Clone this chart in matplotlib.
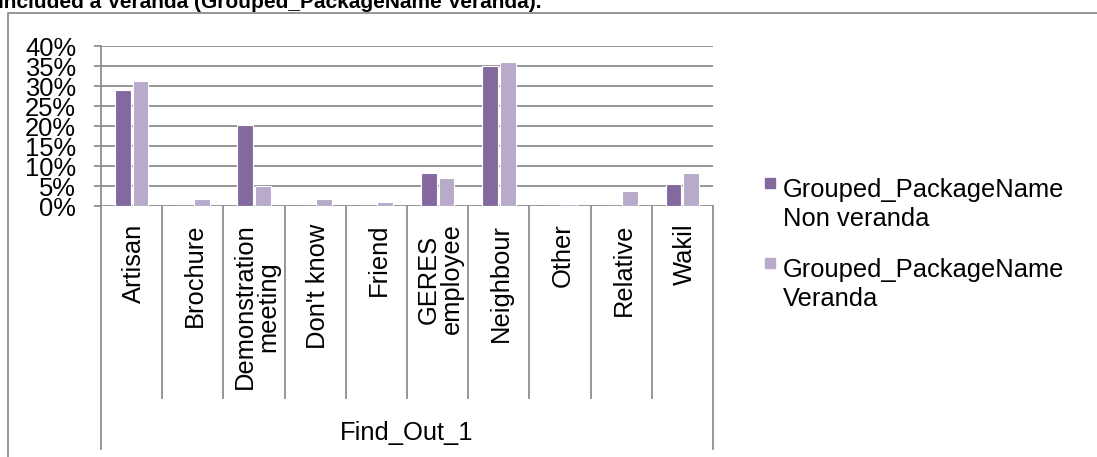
import matplotlib
matplotlib.use('Agg')
import matplotlib.pyplot as plt
import matplotlib.transforms as mtransforms
from matplotlib.patches import Rectangle
from matplotlib.lines import Line2D
import numpy as np

plt.rcParams['font.family'] = ['Liberation Sans', 'DejaVu Sans']

# data (percent)
categories = ['Artisan', 'Brochure', 'Demonstration\nmeeting', "Don't know", 'Friend',
              'GERES\nemployee', 'Neighbour', 'Other', 'Relative', 'Wakil']
non_veranda = [29.0, 0, 20.2, 0, 0, 8.3, 35.0, 0, 0, 5.5]
veranda = [31.3, 1.7, 5.1, 1.7, 1.0, 6.9, 36.0, 0.5, 3.7, 8.3]
series_names = ['Grouped_PackageName\nNon veranda', 'Grouped_PackageName\nVeranda']
yticks = np.arange(0, 41, 5)
axis_title = 'Find_Out_1'
title = 'Included a Veranda (Grouped_PackageName Veranda).'

dark = '#8469a1'
light = '#b8aacb'
gray = '#8e8e8e'
fs = 18.4

W, H = 1097, 457
fig = plt.figure(figsize=(W / 100, H / 100), dpi=100)

def px_rect(x0, y0, x1, y1):
    # pixel box (from top-left) -> figure fraction rect
    return [x0 / W, 1 - y1 / H, (x1 - x0) / W, (y1 - y0) / H]

ax = fig.add_axes(px_rect(101, 46, 713, 206))

x = np.arange(len(categories)) + 0.5
bw = 0.26
ax.bar(x - 0.145, non_veranda, bw, color=dark, edgecolor='white', linewidth=0.8, zorder=3)
ax.bar(x + 0.145, veranda, bw, color=light, edgecolor='white', linewidth=0.8, zorder=3)

ax.set_xlim(0, len(categories))
ax.set_ylim(0, 40)
ax.set_xticks([])
ax.set_yticks(yticks)
ax.set_yticklabels([f'{v}%' for v in yticks], fontsize=fs)
ax.tick_params(axis='y', length=5, width=1.3, color=gray, pad=13)
ax.grid(axis='y', color=gray, linewidth=1.3, zorder=0)
for s in ['top', 'right', 'bottom']:
    ax.spines[s].set_visible(False)
ax.spines['left'].set_color(gray)
ax.spines['left'].set_linewidth(1.3)

# category area below the axis
trans = mtransforms.blended_transform_factory(ax.transData, ax.transAxes)
for i in range(len(categories) + 1):
    y_end = -1.52 if i in (0, len(categories)) else -1.2
    ax.plot([i, i], [0, y_end], color=gray, linewidth=1.3, transform=trans, clip_on=False)
for xi, lab in zip(x, categories):
    ax.text(xi + 0.04, -0.11, lab, rotation=90, ha='center', va='top', multialignment='center',
            fontsize=fs, transform=trans, linespacing=0.95)
ax.text(0.5, -1.46, axis_title, ha='center', va='baseline', fontsize=fs, transform=ax.transAxes)

# legend drawn by hand so the swatch sits on the first line
for k, (name, col) in enumerate(zip(series_names, [dark, light])):
    top = 178 + k * 80
    fig.add_artist(Rectangle((765 / W, 1 - (top + 10) / H), 10 / W, 10 / H,
                             transform=fig.transFigure, color=col))
    for j, line in enumerate(name.split('\n')):
        fig.text(783 / W, 1 - (197 + k * 80 + j * 29) / H, line, fontsize=fs, va='baseline')

# outer chart frame and cut-off title
fig.add_artist(Line2D([8 / W, 8 / W, 1], [0, 1 - 13 / H, 1 - 13 / H], color=gray, linewidth=1.3,
                      transform=fig.transFigure))
fig.text(-0.002, 1 - 8 / H, title, fontsize=15, fontweight='bold', va='baseline')

fig.savefig('out.png', dpi=100)
